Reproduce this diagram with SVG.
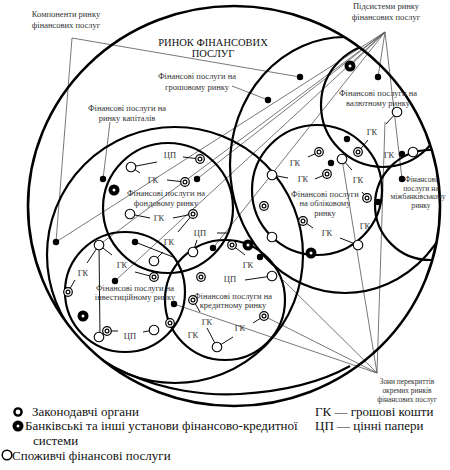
<svg xmlns="http://www.w3.org/2000/svg" width="450" height="470" viewBox="0 0 450 470">
<style>
.c{fill:none;stroke:#000;stroke-width:2.2}
.o{fill:none;stroke:#000;stroke-width:2.6}
.p{stroke:#555;stroke-width:0.8;fill:none}
.s{stroke:#111;stroke-width:1;fill:none}
.t{font-family:"Liberation Serif","Times New Roman",serif;font-size:8.5px;fill:#333;text-anchor:middle}
.k{font-family:"Liberation Serif","Times New Roman",serif;font-size:8.5px;fill:#333;text-anchor:middle}
.h{font-family:"Liberation Serif","Times New Roman",serif;font-size:10.5px;fill:#111;text-anchor:middle}
.l{font-family:"Liberation Serif","Times New Roman",serif;font-size:13px;fill:#111}
</style>
<defs>
<clipPath id="clip"><ellipse cx="234" cy="206" rx="206" ry="200"/></clipPath>
<g id="leg"><circle r="4.3" fill="#fff" stroke="#000" stroke-width="1.2"/><circle r="1.9" fill="none" stroke="#000" stroke-width="1.2"/></g>
<g id="bank"><circle r="5.5" fill="#000"/><circle r="1.5" fill="#fff"/></g>
<g id="cons"><circle r="4.8" fill="#fff" stroke="#000" stroke-width="1.1"/></g>
<circle id="dot" r="3.2" fill="#000"/>
</defs>

<g id="connectors">
<polyline class="p" points="300,77 72,38 56,242" />
<line class="p" x1="110" y1="122" x2="103" y2="179"/>
<line class="p" x1="232" y1="86" x2="268" y2="100"/>
<line class="p" x1="385" y1="32" x2="115" y2="281"/>
<line class="p" x1="385" y1="32" x2="197" y2="179"/>
<line class="p" x1="385" y1="32" x2="56" y2="242"/>
<line class="p" x1="385" y1="32" x2="99" y2="245"/>
<line class="p" x1="385" y1="32" x2="213" y2="248"/>
<line class="p" x1="385" y1="32" x2="350" y2="66"/>
<line class="p" x1="385" y1="32" x2="378" y2="77"/>
<line class="p" x1="385" y1="32" x2="402" y2="179"/>
<line class="p" x1="377" y1="373" x2="174" y2="304"/>
<line class="p" x1="377" y1="373" x2="264" y2="316"/>
<line class="p" x1="377" y1="373" x2="283" y2="280"/>
<line class="p" x1="377" y1="373" x2="342" y2="159"/>
<line class="p" x1="377" y1="373" x2="385" y2="122"/>
</g>

<g id="circles" clip-path="url(#clip)">
<circle id="capital" class="c" cx="175" cy="255" r="128"/>
<path id="lower-arc" class="c" d="M 47,292 C 75,370 170,398 240,394 C 290,391 325,380 350,366"/>
<ellipse id="money" class="c" cx="345" cy="165" rx="115" ry="128"/>
<circle id="stock" class="c" cx="168" cy="208" r="65"/>
<circle id="invest" class="c" cx="125" cy="292" r="60"/>
<circle id="credit" class="c" cx="225" cy="300" r="60"/>
<circle id="discount" class="c" cx="317" cy="190" r="65"/>
<circle id="currency" class="c" cx="383" cy="105" r="62"/>
<circle id="interbank" class="c" cx="430" cy="205" r="55"/>
</g>
<g id="market"><ellipse class="o" cx="234" cy="206" rx="206" ry="200"/></g>

<g id="short-links">
<line class="s" x1="131" y1="167" x2="157" y2="162"/>
<line class="s" x1="131" y1="167" x2="140" y2="173"/>
<line class="s" x1="183" y1="157" x2="200" y2="159"/>
<line class="s" x1="167" y1="180" x2="185" y2="182"/>
<line class="s" x1="130" y1="214" x2="150" y2="218"/>
<line class="s" x1="173" y1="218" x2="193" y2="214"/>
<line class="s" x1="178" y1="232" x2="193" y2="214"/>
<line class="s" x1="197" y1="240" x2="193" y2="252"/>
<line class="s" x1="99" y1="245" x2="87" y2="263"/>
<line class="s" x1="99" y1="245" x2="112" y2="255"/>
<line class="s" x1="99" y1="245" x2="100" y2="337"/>
<line class="s" x1="154" y1="261" x2="163" y2="252"/>
<line class="s" x1="135" y1="242" x2="173" y2="257"/>
<line class="s" x1="68" y1="292" x2="75" y2="280"/>
<line class="s" x1="107" y1="331" x2="118" y2="331"/>
<line class="s" x1="143" y1="332" x2="154" y2="330"/>
<line class="s" x1="193" y1="300" x2="200" y2="312"/>
<line class="s" x1="207" y1="328" x2="217" y2="347"/>
<line class="s" x1="233" y1="337" x2="217" y2="347"/>
<line class="s" x1="264" y1="316" x2="253" y2="323"/>
<line class="s" x1="232" y1="245" x2="245" y2="255"/>
<line class="s" x1="245" y1="280" x2="272" y2="276"/>
<line class="s" x1="272" y1="175" x2="288" y2="178"/>
<line class="s" x1="319" y1="152" x2="308" y2="157"/>
<line class="s" x1="315" y1="179" x2="327" y2="174"/>
<line class="s" x1="342" y1="159" x2="352" y2="170"/>
<line class="s" x1="358" y1="152" x2="368" y2="140"/>
<line class="s" x1="367" y1="198" x2="362" y2="192"/>
<line class="s" x1="303" y1="221" x2="313" y2="228"/>
<line class="s" x1="358" y1="245" x2="340" y2="238"/>
<line class="s" x1="397" y1="112" x2="386" y2="124"/>
<line class="s" x1="135" y1="272" x2="154" y2="277"/>
<line class="s" x1="217" y1="233" x2="227" y2="233"/>
</g>

<g id="symbols">
<use href="#dot" x="300" y="77"/>
<use href="#dot" x="268" y="100"/>
<use href="#bank" x="350" y="66"/>
<use href="#dot" x="378" y="77"/>
<use href="#cons" x="397" y="112"/>
<use href="#dot" x="347" y="139"/>
<use href="#leg" x="358" y="152"/>
<use href="#dot" x="402" y="154"/>
<use href="#cons" x="413" y="152"/>
<use href="#leg" x="319" y="152"/>
<use href="#dot" x="331" y="163"/>
<use href="#cons" x="342" y="159"/>
<use href="#cons" x="272" y="175"/>
<use href="#leg" x="327" y="174"/>
<use href="#dot" x="402" y="179"/>
<use href="#leg" x="367" y="198"/>
<use href="#dot" x="378" y="202"/>
<use href="#leg" x="264" y="206"/>
<use href="#leg" x="303" y="221"/>
<use href="#cons" x="272" y="237"/>
<use href="#cons" x="358" y="245"/>
<use href="#leg" x="232" y="245"/>
<use href="#bank" x="248" y="245"/>
<use href="#dot" x="260" y="257"/>
<use href="#bank" x="311" y="253"/>
<use href="#cons" x="272" y="276"/>
<use href="#leg" x="264" y="316"/>
<use href="#cons" x="131" y="167"/>
<use href="#leg" x="200" y="159"/>
<use href="#leg" x="185" y="182"/>
<use href="#dot" x="197" y="179"/>
<use href="#dot" x="103" y="179"/>
<use href="#bank" x="114" y="190"/>
<use href="#cons" x="130" y="214"/>
<use href="#leg" x="193" y="214"/>
<use href="#cons" x="99" y="245"/>
<use href="#dot" x="135" y="242"/>
<use href="#dot" x="56" y="242"/>
<use href="#dot" x="213" y="248"/>
<use href="#cons" x="193" y="252"/>
<use href="#cons" x="154" y="261"/>
<use href="#leg" x="154" y="277"/>
<use href="#leg" x="201" y="277"/>
<use href="#dot" x="115" y="281"/>
<use href="#leg" x="68" y="292"/>
<use href="#leg" x="193" y="300"/>
<use href="#dot" x="174" y="304"/>
<use href="#bank" x="83" y="316"/>
<use href="#leg" x="107" y="331"/>
<use href="#cons" x="99" y="337"/>
<use href="#cons" x="154" y="330"/>
<use href="#leg" x="170" y="323"/>
<use href="#cons" x="217" y="347"/>
</g>

<g id="small-labels">
<text class="k" x="170" y="158">ЦП</text>
<text class="k" x="153" y="183">ГК</text>
<text class="k" x="159" y="221">ГК</text>
<text class="k" x="200" y="236">ЦП</text>
<text class="k" x="169" y="245">ГК</text>
<text class="k" x="83" y="276">ГК</text>
<text class="k" x="122" y="268">ГК</text>
<text class="k" x="230" y="282">ЦП</text>
<text class="k" x="130" y="339">ЦП</text>
<text class="k" x="193" y="338">ГК</text>
<text class="k" x="207" y="325">ГК</text>
<text class="k" x="240" y="331">ГК</text>
<text class="k" x="248" y="268">ГК</text>
<text class="k" x="295" y="166">ГК</text>
<text class="k" x="303" y="182">ГК</text>
<text class="k" x="372" y="135">ГК</text>
<text class="k" x="389" y="158">ГК</text>
<text class="k" x="358" y="183">ГК</text>
<text class="k" x="327" y="236">ГК</text>
<text class="k" x="365" y="229">ГК</text>
</g>

<g id="labels">
<text class="t" x="66" y="17">Компоненти ринку</text>
<text class="t" x="66" y="28">фінансових послуг</text>
<text class="t" x="386" y="9">Підсистеми ринку</text>
<text class="t" x="386" y="20">фінансових послуг</text>
<text class="h" x="213" y="46">РИНОК ФІНАНСОВИХ</text>
<text class="h" x="213" y="57">ПОСЛУГ</text>
<text class="t" x="197" y="79">Фінансові послуги на</text>
<text class="t" x="197" y="90">грошовому ринку</text>
<text class="t" x="127" y="111">Фінансові послуги на</text>
<text class="t" x="127" y="121">ринку капіталів</text>
<text class="t" x="378" y="96">Фінансові послуги на</text>
<text class="t" x="378" y="106">валютному ринку</text>
<text class="t" x="166" y="196">Фінансові послуги на</text>
<text class="t" x="166" y="206">фондовому ринку</text>
<text class="t" x="325" y="197">Фінансові послуги</text>
<text class="t" x="325" y="206">на обліковому</text>
<text class="t" x="325" y="216">ринку</text>
<text class="t" x="421" y="182" style="font-size:7.6px">Фінансові</text>
<text class="t" x="421" y="190.5" style="font-size:7.6px">послуги на</text>
<text class="t" x="418" y="199" style="font-size:7.6px">міжбанківському</text>
<text class="t" x="421" y="207.5" style="font-size:7.6px">ринку</text>
<text class="t" x="135" y="291">Фінансові послуги на</text>
<text class="t" x="135" y="300">інвестиційному ринку</text>
<text class="t" x="233" y="299">Фінансові послуги на</text>
<text class="t" x="233" y="308">кредитному ринку</text>
<text class="t" x="407" y="384" style="font-size:7.4px">Зони перекриттів</text>
<text class="t" x="407" y="393" style="font-size:7.4px">окремих ринків</text>
<text class="t" x="407" y="402" style="font-size:7.4px">фінансових послуг</text>
</g>

<g id="legend">
<circle cx="18" cy="412" r="3.6" fill="#fff" stroke="#000" stroke-width="2.4"/>
<text class="l" x="32" y="416">Законодавчі органи</text>
<use href="#bank" x="18" y="426"/>
<text class="l" x="25" y="430">Банківські та інші установи фінансово-кредитної</text>
<text class="l" x="33" y="445">системи</text>
<circle cx="7" cy="455" r="4.8" fill="#fff" stroke="#000" stroke-width="1.5"/>
<text class="l" x="12" y="459.5">Споживчі фінансові послуги</text>
<text class="l" x="315" y="416">ГК — грошові кошти</text>
<text class="l" x="315" y="430">ЦП — цінні папери</text>
</g>
</svg>
